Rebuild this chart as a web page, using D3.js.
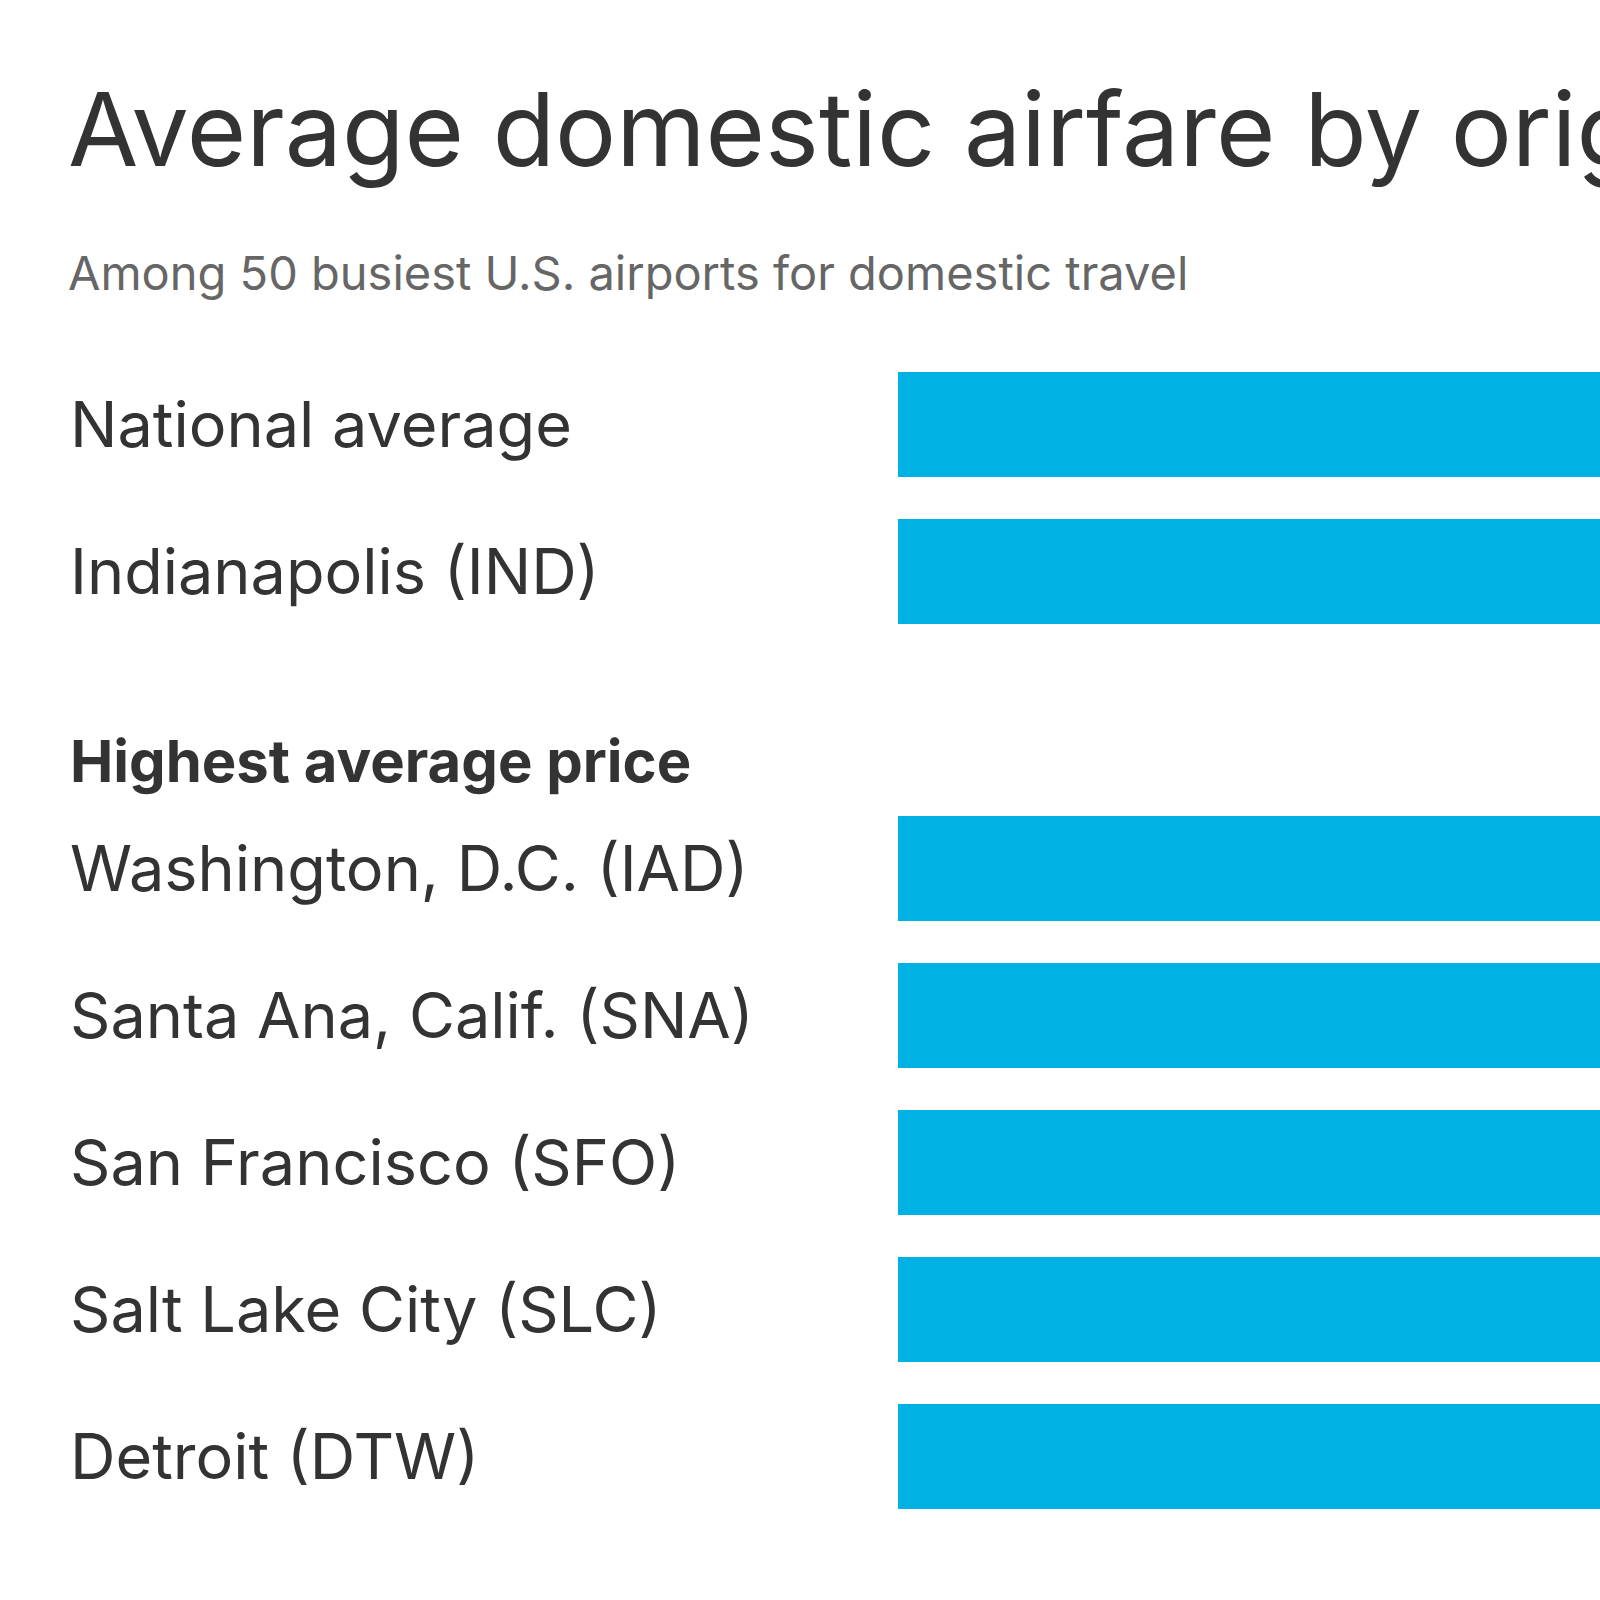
<!DOCTYPE html>
<html lang="en">
<head>
<meta charset="utf-8">
<title>Average domestic airfare</title>
<script src="https://d3js.org/d3.v7.min.js"></script>
<style>
body{ margin:0; background:#fff; overflow:hidden; }
svg text{ font-family: Inter, "Noto Sans", sans-serif; fill:#333; }
</style>
</head>
<body>
<div id="chart"></div>
<script>
// values are estimates: the reference crops every bar at the right edge
var topLabels = ["National average", "Indianapolis (IND)"];
var topValues = [379, 417];
var highLabels = ["Washington, D.C. (IAD)", "Santa Ana, Calif. (SNA)", "San Francisco (SFO)", "Salt Lake City (SLC)", "Detroit (DTW)"];
var highValues = [536, 490, 480, 470, 463];

var W = 1600, H = 1600;
var svg = d3.select('#chart').append('svg')
  .attr('width', W).attr('height', H);

svg.append('text').attr('x', 68).attr('y', 166)
  .style('font-size', '102px').style('letter-spacing', '0px')
  .text('Average domestic airfare by origin airport');
svg.append('text').attr('x', 68).attr('y', 290)
  .style('font-size', '47px').style('fill', '#666')
  .text('Among 50 busiest U.S. airports for domestic travel');

var x = d3.scaleLinear().domain([0, 379]).range([898, 1720]);

function rows(labels, values, y0) {
  var y = d3.scaleBand().domain(labels)
    .range([y0, y0 + 147 * labels.length]).paddingInner(0.2857).paddingOuter(0.143);
  var g = svg.append('g');
  g.selectAll('rect').data(values).enter().append('rect')
    .attr('x', x(0)).attr('y', function(d, i){ return y(labels[i]); })
    .attr('width', function(d){ return x(d) - x(0); })
    .attr('height', y.bandwidth())
    .style('fill', '#00b1e3');
  g.selectAll('text').data(labels).enter().append('text')
    .attr('x', 70).attr('y', function(d){ return y(d) + y.bandwidth() / 2; })
    .attr('dy', '0.36em')
    .style('font-size', '63px').style('letter-spacing', '0px')
    .text(function(d){ return d; });
}

rows(topLabels, topValues, 351);
svg.append('text').attr('x', 70).attr('y', 782)
  .style('font-size', '58px').style('font-weight', 'bold')
  .text('Highest average price');
rows(highLabels, highValues, 795);
</script>
</body>
</html>
